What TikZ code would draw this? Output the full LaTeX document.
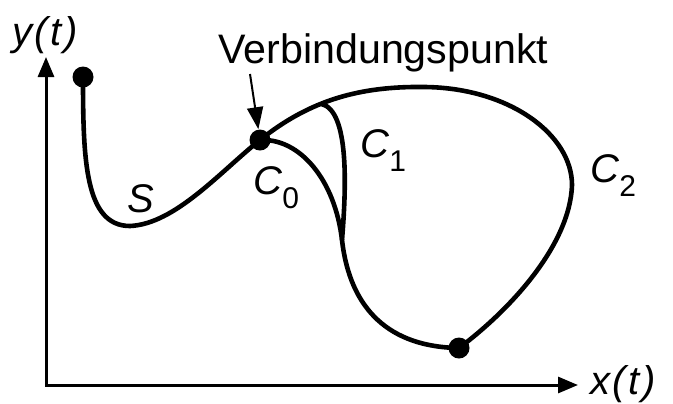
\documentclass[tikz,border=0pt]{standalone}
\usepackage{fontspec}
\setmainfont{Liberation Sans}
\usetikzlibrary{arrows.meta}
\tikzset{
  curve/.style={line width=2.3pt},
  axis/.style={line width=1.5pt,{Triangle[length=10pt,width=8pt]}-{Triangle[length=10pt,width=8pt]}},
  pointer/.style={line width=1pt,-{Triangle[length=11pt,width=8pt]}},
  dot/.style={circle,fill,inner sep=0pt,minimum size=10.5pt},
  lbl/.style={font=\fontsize{20}{24}\selectfont\itshape,inner sep=0pt},
}
\newcommand{\lowidx}[1]{\raisebox{-7pt}{\upshape\fontsize{15}{18}\selectfont#1}}
\begin{document}
\begin{tikzpicture}[x=0.5pt,y=-0.5pt]
  \useasboundingbox (0,0) rectangle (673,403);
  % axes
  \coordinate (origin) at (46,385);
  \coordinate (ytip) at (46,57);
  \coordinate (xtip) at (578,385);
  \draw[axis] (ytip) -- (origin) -- (xtip);
  \node[lbl,anchor=base west] (ylabel) at (12,45) {y\kern1pt(\kern1.5pt t\kern1.5pt)};
  \node[lbl,anchor=south west] (xlabel) at (590,403) {x\kern1pt(\kern1.5pt t\kern1.5pt)};
  % points
  \node[dot] (start) at (83,77) {};
  \node[dot] (join) at (260,140) {};
  \node[dot] (stop) at (459,348) {};
  % curves
  \draw[curve] (start.center) .. controls (83,160) and (85,226) .. (130,226)
    .. controls (175,224) and (220,172) .. (join.center);
  \draw[curve] (join.center) .. controls (310,100) and (360,86) .. (425,87) coordinate[pos=0.4] (fork)
    .. controls (510,88) and (572,135) .. (572,185)
    .. controls (570,245) and (510,310) .. (stop.center);
  \draw[curve] (join.center) .. controls (300,138) and (335,180) .. (342,240) coordinate (merge)
    .. controls (350,310) and (390,347) .. (stop.center);
  \draw[curve] (fork) .. controls (350,110) and (346,190) .. (merge);
  % labels
  \node[anchor=base west,inner sep=0pt,font=\fontsize{20.6}{24}\selectfont] (title) at (218,63) {Verbindungspunkt};
  \coordinate (tail) at (250,74);
  \draw[pointer] (tail) -- (join);
  \node[lbl,anchor=base west] (slabel) at (127,212) {S};
  \node[lbl,anchor=base west] (c0label) at (253,194) {C\lowidx{0}};
  \node[lbl,anchor=base west] (c1label) at (360,157) {C\lowidx{1}};
  \node[lbl,anchor=base west] (c2label) at (590,182) {C\lowidx{2}};
\end{tikzpicture}
\end{document}
